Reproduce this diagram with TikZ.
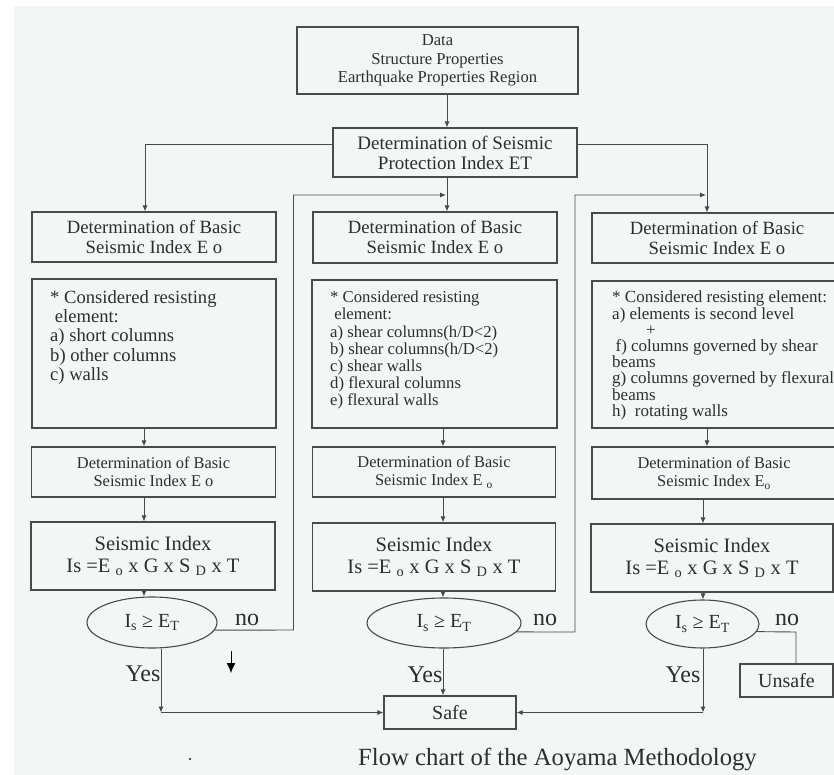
\documentclass[tikz,border=0pt]{standalone}
\usepackage{fontspec}
\setmainfont{Liberation Serif}
\usetikzlibrary{arrows.meta,shapes.geometric}
\definecolor{bg}{HTML}{F4F5F5}
\definecolor{linec}{HTML}{4A4A4A}
\definecolor{txtc}{HTML}{2E2E2E}
\newcommand{\fsz}[2]{\fontsize{#1}{#2}\selectfont}
\begin{document}
\begin{tikzpicture}[x=1pt,y=-1pt,
  box/.style={draw=linec,line width=1.1pt,inner sep=0pt,text=txtc,align=center},
  txt/.style={inner sep=0pt,text=txtc,align=left,anchor=north west},
  conn/.style={draw=linec,line width=0.9pt},
  arr/.style={conn,-{Latex[length=6pt,width=5pt]}},
  dec/.style={draw=linec,line width=1.1pt,ellipse,inner sep=0pt,text=txtc},
  lab/.style={inner sep=0pt,text=txtc}]
\useasboundingbox (0,0) rectangle (834,775);
\clip (0,0) rectangle (834,775);
\fill[white] (0,0) rectangle (834,775);
\fill[bg] (14,6) rectangle (834,775);

% top
\node[box,minimum width=281pt,minimum height=67pt,font=\fsz{16.6}{18.3}] (data) at (437.5,60.5)
  {Data\\Structure Properties\\Earthquake Properties Region};
\node[box,minimum width=244pt,minimum height=49pt,font=\fsz{19}{20}] (et) at (455,152.5)
  {Determination of Seismic\\Protection Index ET};

% left column
\node[box,minimum width=244pt,minimum height=50pt,font=\fsz{18.7}{20}] (b1L) at (154,237)
  {Determination of Basic\\Seismic Index E o};
\node[box,minimum width=244pt,minimum height=149pt] (b2L) at (154,353.5) {};
\node[txt,font=\fsz{18.6}{19.3}] (t2L) at (50,290)
  {* Considered resisting\\\hspace{0.25em}element:\\a) short columns\\b) other columns\\c) walls};
\node[box,minimum width=244pt,minimum height=50pt,font=\fsz{16.4}{18}] (b3L) at (153.5,472)
  {Determination of Basic\\Seismic Index E o};
\node[box,minimum width=244pt,minimum height=68pt,font=\fsz{20.5}{22}] (b4L) at (153,556)
  {Seismic Index\\Is =E \textsubscript{o} x G x S \textsubscript{D} x T};
\node[dec,minimum width=130pt,minimum height=51pt,font=\fsz{20}{22}] (eL) at (152,622.5)
  {I\textsubscript{s} ≥ E\textsubscript{T}};
\node[lab,font=\fsz{24}{26}] (noL) at (247,620) {no};
\node[lab,font=\fsz{24}{26}] (yesL) at (143,674) {Yes};

% centre column
\node[box,minimum width=244pt,minimum height=51pt,font=\fsz{18.7}{20}] (b1C) at (435,237.5)
  {Determination of Basic\\Seismic Index E o};
\node[box,minimum width=245pt,minimum height=148pt] (b2C) at (434.5,354) {};
\node[txt,font=\fsz{16.7}{17.2}] (t2C) at (330,291)
  {* Considered resisting\\\hspace{0.25em}element:\\a) shear columns(h/D<2)\\b) shear columns(h/D<2)\\c) shear walls\\d) flexural columns\\e) flexural walls};
\node[box,minimum width=243pt,minimum height=50pt,font=\fsz{16.4}{18}] (b3C) at (434,472)
  {Determination of Basic\\Seismic Index E \textsubscript{o}};
\node[box,minimum width=243pt,minimum height=68pt,font=\fsz{20.5}{22}] (b4C) at (434,557)
  {Seismic Index\\Is =E \textsubscript{o} x G x S \textsubscript{D} x T};
\node[dec,minimum width=154pt,minimum height=50pt,font=\fsz{20}{22}] (eC) at (444,623)
  {I\textsubscript{s} ≥ E\textsubscript{T}};
\node[lab,font=\fsz{24}{26}] (noC) at (545,620) {no};
\node[lab,font=\fsz{24}{26}] (yesC) at (425,675) {Yes};
\node[box,minimum width=132pt,minimum height=33pt,font=\fsz{20}{22}] (safe) at (450,712.5) {Safe};

% right column
\node[box,minimum width=250pt,minimum height=50pt,font=\fsz{18.7}{20}] (b1R) at (717,238)
  {Determination of Basic\\Seismic Index E o};
\node[box,minimum width=250pt,minimum height=147pt] (b2R) at (717,354.5) {};
\node[txt,font=\fsz{17}{16.2}] (t2R) at (612,291)
  {* Considered resisting element:\\a) elements is second level\\\hspace{2em}+\\\hspace{0.2em}f) columns governed by shear\\beams\\g) columns governed by flexural\\beams\\h)\ \ rotating walls};
\node[box,minimum width=244pt,minimum height=52pt,font=\fsz{16.4}{18}] (b3R) at (714,473)
  {Determination of Basic\\Seismic Index E\textsubscript{o}};
\node[box,minimum width=242pt,minimum height=68pt,font=\fsz{20.5}{22}] (b4R) at (712,558)
  {Seismic Index\\Is =E \textsubscript{o} x G x S \textsubscript{D} x T};
\node[dec,minimum width=113pt,minimum height=48pt,font=\fsz{20}{22}] (eR) at (702.5,624)
  {I\textsubscript{s} ≥ E\textsubscript{T}};
\node[lab,font=\fsz{24}{26}] (noR) at (787,620) {no};
\node[lab,font=\fsz{24}{26}] (yesR) at (683,675) {Yes};
\node[box,minimum width=93pt,minimum height=33pt,font=\fsz{20}{22}] (unsafe) at (786.5,680.5) {Unsafe};

% caption and marks
\node[lab,font=\fsz{24.7}{26}] (cap) at (557.5,759) {Flow chart of the Aoyama Methodology};
\node[circle,fill=linec,inner sep=0pt,minimum size=2.6pt] (dot) at (190,759) {};

% coordinates
\coordinate (cx) at (447,0);
\coordinate (etL) at (145,144);
\coordinate (etR) at (707,144);
\coordinate (xL) at (144,0);
\coordinate (xC) at (443,0);
\coordinate (xR) at (707,0);
\coordinate (xR2) at (703,0);
\coordinate (lpL) at (293.5,630);
\coordinate (ltL) at (293.5,195);
\coordinate (inC) at (446,195);
\coordinate (lpC) at (575,632);
\coordinate (ltC) at (575,195);
\coordinate (inR) at (706,195);
\coordinate (ybL) at (161,0);
\coordinate (jL) at (161,712.5);
\coordinate (jR) at (703,712.5);
\coordinate (uR) at (796,632);
\coordinate (sa1) at (231,651);
\coordinate (sa2) at (231,673);

% connectors
\draw[arr] (data.south -| cx) -- (et.north -| cx);
\draw[arr] (et.south -| cx) -- (b1C.north -| cx);
\draw[arr] (et.west |- etL) -- (etL) -- (b1L.north -| etL);
\draw[arr] (et.east |- etR) -- (etR) -- (b1R.north -| etR);

\draw[arr] (b2L.south -| xL) -- (b3L.north -| xL);
\draw[arr] (b3L.south -| xL) -- (b4L.north -| xL);
\draw[arr] (b4L.south -| xL) -- (eL.north -| xL);

\draw[arr] (b2C.south -| xC) -- (b3C.north -| xC);
\draw[arr] (b3C.south -| xC) -- (b4C.north -| xC);
\draw[arr] (b4C.south -| xC) -- (eC.north -| xC);

\draw[arr] (b2R.south -| xR) -- (b3R.north -| xR);
\draw[arr] (b3R.south -| xR2) -- (b4R.north -| xR2);
\draw[arr] (b4R.south -| xR2) -- (eR.north -| xR2);

\draw[arr] (eL.-7) -- (lpL) -- (ltL) -- (inC);
\draw[arr] (eC.-7) -- (lpC) -- (ltC) -- (inR);
\draw[conn] (eR.-8.5) -- (uR) -- (unsafe.north -| uR);

\draw[arr] (eL.south -| ybL) -- (jL);
\draw[arr] (jL) -- (safe.west);
\draw[arr] (eC.south -| xC) -- (safe.north -| xC);
\draw[arr] (eR.south -| jR) -- (jR);
\draw[arr] (jR) -- (safe.east);

\draw[black,line width=1pt,-{Latex[length=10pt,width=9pt]}] (sa1) -- (sa2);
\end{tikzpicture}
\end{document}
